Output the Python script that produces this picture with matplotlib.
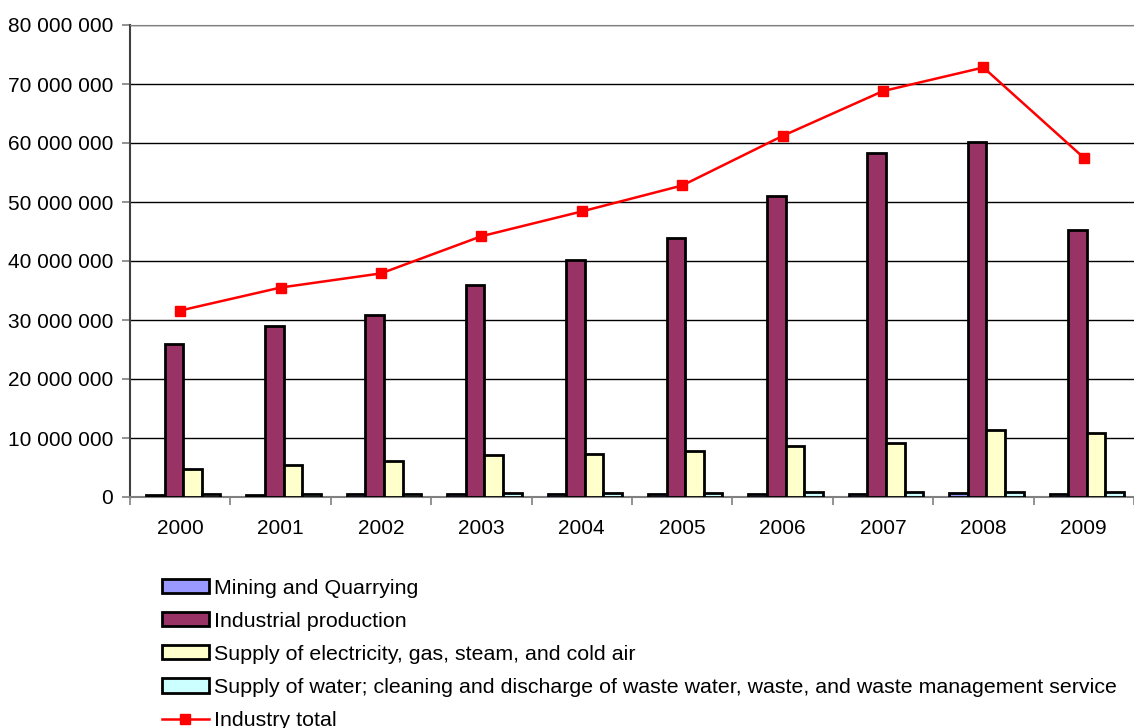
import matplotlib.pyplot as plt
import numpy as np
from matplotlib.ticker import FuncFormatter

plt.rcParams['font.family'] = ['Liberation Sans', 'DejaVu Sans']

# Data
years = ['2000', '2001', '2002', '2003', '2004', '2005', '2006', '2007', '2008', '2009']
mining = [400000, 420000, 430000, 450000, 430000, 480000, 520000, 500000, 600000, 520000]
industrial = [25900000, 29000000, 30900000, 36000000, 40200000, 43900000, 51100000, 58300000, 60200000, 45300000]
electricity = [4700000, 5500000, 6100000, 7200000, 7300000, 7800000, 8700000, 9100000, 11300000, 10800000]
water = [550000, 580000, 520000, 620000, 650000, 700000, 800000, 850000, 900000, 850000]
total = [31600000, 35500000, 37900000, 44200000, 48400000, 52800000, 61200000, 68800000, 72800000, 57500000]

labels = ['Mining and Quarrying', 'Industrial production',
          'Supply of electricity, gas, steam, and cold air',
          'Supply of water; cleaning and discharge of waste water, waste, and waste management service',
          'Industry total']
colors = ['#9999ff', '#993366', '#ffffcc', '#ccffff']

fig = plt.figure(figsize=(11.34, 7.28), dpi=100)
ax = fig.add_axes([130 / 1134, 1 - 497 / 728, 1004 / 1134, 472 / 728])

x = np.arange(len(years))
w = 0.185
series = [mining, industrial, electricity, water]
handles = []
for i, (vals, c) in enumerate(zip(series, colors)):
    b = ax.bar(x + (i - 1.5) * w + 0.03, vals, width=w, color=c, edgecolor='black',
               linewidth=2, label=labels[i], zorder=3)
    handles.append(b)

ln, = ax.plot(x, total, color='red', linewidth=1.8, marker='s', markersize=7,
              markerfacecolor='red', markeredgecolor='red', label=labels[4], zorder=4)
handles.append(ln)

ax.set_xlim(-0.5, len(years) - 0.5)
ax.set_ylim(0, 80000000)
ax.set_yticks(np.arange(0, 80000001, 10000000))
ax.yaxis.set_major_formatter(FuncFormatter(lambda v, p: f'{int(v):,}'.replace(',', ' ')))
ax.set_xticks(x)
ax.set_xticklabels(years)
ax.set_xticks(np.arange(-0.5, len(years), 1), minor=True)
ax.tick_params(axis='x', which='major', length=0, pad=16, labelsize=15)
ax.tick_params(axis='x', which='minor', length=6, color='gray', width=1.2)
ax.tick_params(axis='y', length=6, color='gray', width=1.2, labelsize=15, pad=6)
ax.grid(axis='y', color='black', linewidth=1, zorder=0)

ax.spines['top'].set_color('gray')
ax.spines['right'].set_visible(False)
ax.spines['left'].set_color('#404040')
ax.spines['left'].set_linewidth(1.5)
ax.spines['bottom'].set_color('gray')
ax.spines['bottom'].set_linewidth(1.5)

fig.legend(handles=handles, labels=labels, loc='upper left',
           bbox_to_anchor=(153 / 1134, 1 - 570 / 728), frameon=False,
           fontsize=15.4, handlelength=2.2, handleheight=0.65, labelspacing=0.66,
           handletextpad=0.25, borderaxespad=0)

plt.savefig('out.png', dpi=100)
